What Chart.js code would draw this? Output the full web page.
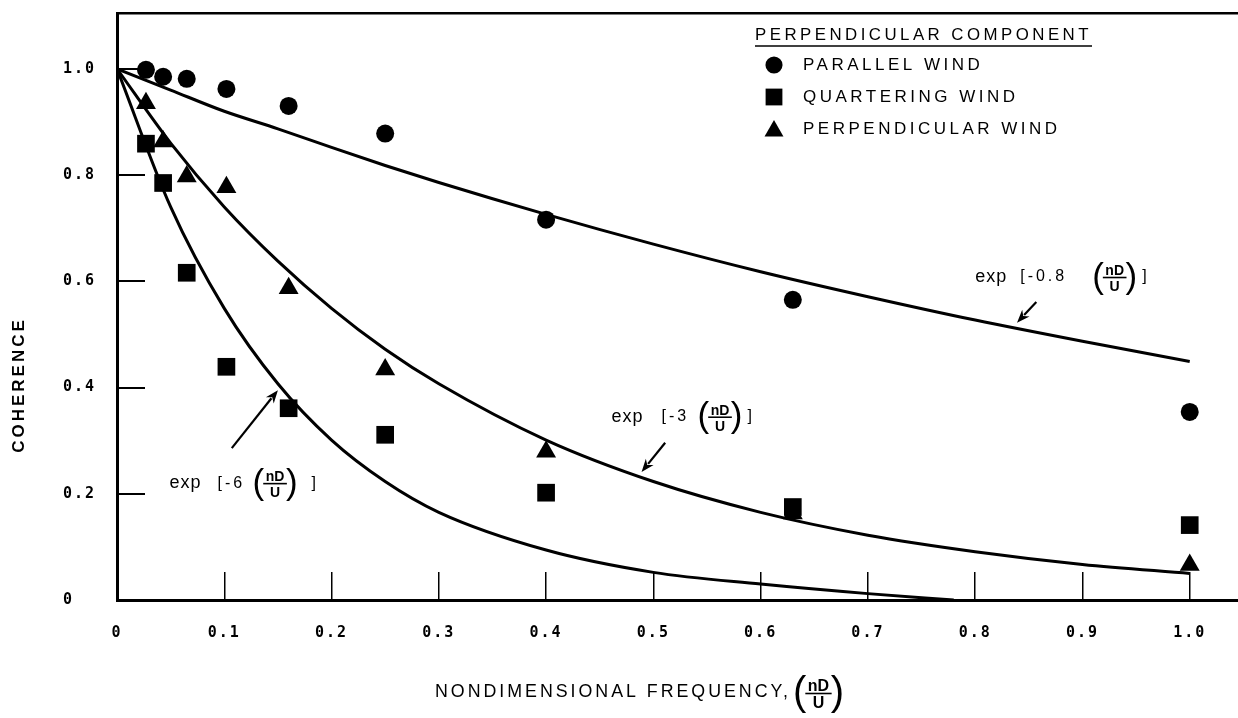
<!DOCTYPE html>
<html><head><meta charset="utf-8">
<script src="https://cdn.jsdelivr.net/npm/chart.js@4/dist/chart.umd.min.js"></script>
<style>html,body{margin:0;padding:0;background:#fff}#wrap{width:1238px;height:718px;position:relative}</style>
</head><body><div id="wrap"><canvas id="c" width="1238" height="718"></canvas></div>
<script>
// ---- data ----
const frequencies = [0.027, 0.043, 0.065, 0.102, 0.16, 0.25, 0.40, 0.63, 1.0];
const parallelWind = [0.998, 0.985, 0.981, 0.962, 0.930, 0.878, 0.716, 0.565, 0.354];
const quarteringWind = [0.859, 0.785, 0.616, 0.439, 0.361, 0.311, 0.202, 0.175, 0.141];
const perpendicularWind = [0.935, 0.863, 0.797, 0.777, 0.587, 0.434, 0.279, 0.163, 0.066];

const curveX = [0, 0.05, 0.1, 0.15, 0.2, 0.25, 0.3, 0.4, 0.5, 0.6, 0.7, 0.8, 0.9, 1.0];
const curve08 = [1.0, 0.96, 0.92, 0.887, 0.852, 0.818, 0.786, 0.726, 0.67, 0.618, 0.571, 0.527, 0.487, 0.449];
const curve3 = [1.0, 0.86, 0.74, 0.638, 0.549, 0.472, 0.407, 0.301, 0.223, 0.165, 0.122, 0.091, 0.067, 0.05];
const curve6X = [0, 0.05, 0.1, 0.15, 0.2, 0.25, 0.3, 0.4, 0.5, 0.6, 0.7, 0.78];
const curve6 = [1.0, 0.74, 0.549, 0.407, 0.301, 0.223, 0.165, 0.094, 0.052, 0.03, 0.012, 0.0];

const xTickValues = [0, 0.1, 0.2, 0.3, 0.4, 0.5, 0.6, 0.7, 0.8, 0.9, 1.0];
const xTickLabels = ['0', '0.1', '0.2', '0.3', '0.4', '0.5', '0.6', '0.7', '0.8', '0.9', '1.0'];
const yTickValues = [0, 0.2, 0.4, 0.6, 0.8, 1.0];
const yTickLabels = ['0', '0.2', '0.4', '0.6', '0.8', '1.0'];

const seriesNames = ['PARALLEL WIND', 'QUARTERING WIND', 'PERPENDICULAR WIND'];
const legendTitle = 'PERPENDICULAR COMPONENT';
const xTitle = 'NONDIMENSIONAL FREQUENCY,';
const yTitle = 'COHERENCE';
const curveCoefs = ['-0.8', '-3', '-6'];
// annotation anchors in data units: label left/center, arrow tail, arrow tip
const annLabel = [[0.800, 0.608], [0.461, 0.345], [0.049, 0.220]];
const annTail = [[0.857, 0.561], [0.511, 0.296], [0.107, 0.286]];
const annTip = [[0.839, 0.522], [0.489, 0.241], [0.150, 0.395]];

const xMax = 1.045, yMax = 1.105;

const toXY = (xs, ys) => xs.map((x, i) => ({x: x, y: ys[i]}));

const FONT_TICK = {family: 'DejaVu Sans Mono', size: 15, weight: 'bold'};
const SANS = '"Liberation Sans", "DejaVu Sans", sans-serif';

function drawParenFrac(ctx, x, y, s) {
  ctx.save();
  ctx.letterSpacing = '0px';
  ctx.textAlign = 'left';
  ctx.textBaseline = 'middle';
  ctx.font = (s * 2.5) + 'px ' + SANS;
  ctx.fillText('(', x, y + 1);
  const pw = ctx.measureText('(').width;
  ctx.font = 'bold ' + s + 'px ' + SANS;
  const fw = ctx.measureText('nD').width + 3;
  const cx = x + pw + fw / 2;
  ctx.textAlign = 'center';
  ctx.textBaseline = 'alphabetic';
  ctx.fillText('nD', cx, y - 2);
  ctx.textBaseline = 'top';
  ctx.fillText('U', cx, y + 3);
  ctx.beginPath();
  ctx.lineWidth = 1.6;
  ctx.moveTo(x + pw - 1, y + 0.5);
  ctx.lineTo(x + pw + fw + 1, y + 0.5);
  ctx.stroke();
  ctx.textAlign = 'left';
  ctx.textBaseline = 'middle';
  ctx.font = (s * 2.5) + 'px ' + SANS;
  ctx.fillText(')', x + pw + fw, y + 1);
  const end = x + pw + fw + ctx.measureText(')').width;
  ctx.restore();
  return end;
}

function drawArrow(ctx, x1, y1, x2, y2) {
  const a = Math.atan2(y2 - y1, x2 - x1);
  const L = 13, W = 5;
  ctx.beginPath();
  ctx.lineWidth = 2.2;
  ctx.moveTo(x1, y1);
  ctx.lineTo(x2 - Math.cos(a) * L * 0.8, y2 - Math.sin(a) * L * 0.8);
  ctx.stroke();
  ctx.beginPath();
  ctx.moveTo(x2, y2);
  ctx.lineTo(x2 - Math.cos(a) * L - Math.sin(a) * W, y2 - Math.sin(a) * L + Math.cos(a) * W);
  ctx.lineTo(x2 - Math.cos(a) * L * 0.7, y2 - Math.sin(a) * L * 0.7);
  ctx.lineTo(x2 - Math.cos(a) * L + Math.sin(a) * W, y2 - Math.sin(a) * L - Math.cos(a) * W);
  ctx.closePath();
  ctx.fill();
}

const decor = {
  id: 'decor',
  beforeDraw(chart) {
    chart.ctx.letterSpacing = '2px';
  },
  afterDraw(chart) {
    const ctx = chart.ctx;
    const sx = chart.scales.x, sy = chart.scales.y;
    ctx.save();
    ctx.fillStyle = '#000';
    ctx.strokeStyle = '#000';

    // annotations
    const offs = [[45, 117], [50, 86], [48, 83]];
    for (let i = 0; i < 3; i++) {
      const lx = sx.getPixelForValue(annLabel[i][0]);
      const ly = sy.getPixelForValue(annLabel[i][1]);
      ctx.letterSpacing = '1px';
      ctx.textAlign = 'left';
      ctx.textBaseline = 'middle';
      ctx.font = '18px ' + SANS;
      ctx.fillText('exp', lx, ly);
      ctx.letterSpacing = '3px';
      ctx.font = '16px ' + SANS;
      ctx.fillText('[' + curveCoefs[i], lx + offs[i][0], ly);
      const end = drawParenFrac(ctx, lx + offs[i][1], ly, 14);
      ctx.letterSpacing = '0px';
      ctx.font = '16px ' + SANS;
      ctx.fillText(']', end + (i === 2 ? 14 : 5), ly);
      drawArrow(ctx, sx.getPixelForValue(annTail[i][0]), sy.getPixelForValue(annTail[i][1]),
                sx.getPixelForValue(annTip[i][0]), sy.getPixelForValue(annTip[i][1]));
    }

    // legend
    ctx.letterSpacing = '3.5px';
    ctx.font = '17px ' + SANS;
    ctx.textAlign = 'left';
    ctx.textBaseline = 'middle';
    ctx.fillText(legendTitle, 755, 35, 337);
    ctx.beginPath();
    ctx.lineWidth = 1.6;
    ctx.moveTo(755, 46);
    ctx.lineTo(1092, 46);
    ctx.stroke();
    const styles = [['circle', 9], ['rect', 12.5], ['triangle', 11.5]];
    const rowsY = [65, 97, 129];
    for (let i = 0; i < 3; i++) {
      Chart.helpers.drawPoint(ctx, {pointStyle: styles[i][0], radius: styles[i][1] * 0.95, rotation: 0, borderWidth: 0}, 774, rowsY[i] + (i === 2 ? 2 : 0));
      ctx.fillText(seriesNames[i], 803, rowsY[i]);
    }

    // axis titles
    ctx.letterSpacing = '3px';
    ctx.font = '18px ' + SANS;
    ctx.fillText(xTitle, 435, 692, 356);
    drawParenFrac(ctx, 793, 693, 16);

    ctx.translate(19, 385);
    ctx.rotate(-Math.PI / 2);
    ctx.textAlign = 'center';
    ctx.letterSpacing = '3px';
    ctx.font = 'bold 17px ' + SANS;
    ctx.fillText(yTitle, 0, 0);
    ctx.restore();
    ctx.letterSpacing = '0px';
  }
};

const pointBase = {type: 'scatter', showLine: false, backgroundColor: '#000', borderColor: '#000', borderWidth: 0};
const lineBase = {type: 'line', showLine: true, pointRadius: 0, borderColor: '#000', borderWidth: 3, fill: false, cubicInterpolationMode: 'monotone', order: 1};

const chart = new Chart(document.getElementById('c'), {
  type: 'scatter',
  data: {
    datasets: [
      Object.assign({}, pointBase, {label: seriesNames[0], data: toXY(frequencies, parallelWind), pointStyle: 'circle', pointRadius: 9, order: 0}),
      Object.assign({}, pointBase, {label: seriesNames[1], data: toXY(frequencies, quarteringWind), pointStyle: 'rect', pointRadius: 12.5, order: 0}),
      Object.assign({}, pointBase, {label: seriesNames[2], data: toXY(frequencies, perpendicularWind), pointStyle: 'triangle', pointRadius: 11.5, order: -1}),
      Object.assign({}, lineBase, {label: 'exp[-0.8 nD/U]', data: toXY(curveX, curve08)}),
      Object.assign({}, lineBase, {label: 'exp[-3 nD/U]', data: toXY(curveX, curve3)}),
      Object.assign({}, lineBase, {label: 'exp[-6 nD/U]', data: toXY(curve6X, curve6)})
    ]
  },
  options: {
    responsive: false,
    animation: false,
    devicePixelRatio: 1,
    layout: {autoPadding: false, padding: {left: 63, top: 13, right: 0, bottom: 0}},
    plugins: {legend: {display: false}, tooltip: {enabled: false}},
    elements: {point: {hoverRadius: 0}},
    scales: {
      x: {
        type: 'linear', position: 'bottom', min: 0, max: xMax,
        afterBuildTicks: s => { s.ticks = xTickValues.map(v => ({value: v})); },
        afterFit: s => { s.height = 118; s.paddingLeft = 0; s.paddingRight = 0; },
        ticks: {
          callback: v => xTickLabels[xTickValues.findIndex(t => Math.abs(t - v) < 1e-9)],
          color: '#000', font: FONT_TICK, padding: 52, maxRotation: 0, autoSkip: false
        },
        grid: {drawOnChartArea: false, drawTicks: true, tickLength: -28, color: '#000', lineWidth: 1.5},
        border: {display: true, color: '#000', width: 3}
      },
      y: {
        type: 'linear', position: 'left', min: 0, max: yMax,
        afterBuildTicks: s => { s.ticks = yTickValues.map(v => ({value: v})); },
        afterFit: s => { s.width = 54; s.paddingTop = 0; s.paddingBottom = 0; },
        ticks: {
          callback: v => yTickLabels[yTickValues.findIndex(t => Math.abs(t - v) < 1e-9)],
          color: '#000', font: FONT_TICK, crossAlign: 'far', autoSkip: false
        },
        grid: {drawOnChartArea: false, drawTicks: true, tickLength: -28, color: '#000', lineWidth: 2},
        border: {display: true, color: '#000', width: 3}
      },
      xTop: {
        axis: 'x', type: 'linear', position: 'top', min: 0, max: xMax,
        afterFit: s => { s.height = 0; s.paddingLeft = 0; s.paddingRight = 0; },
        ticks: {display: false},
        grid: {display: false, drawTicks: false},
        border: {display: true, color: '#000', width: 2.5}
      }
    }
  },
  plugins: [decor]
});
</script>
</body></html>
